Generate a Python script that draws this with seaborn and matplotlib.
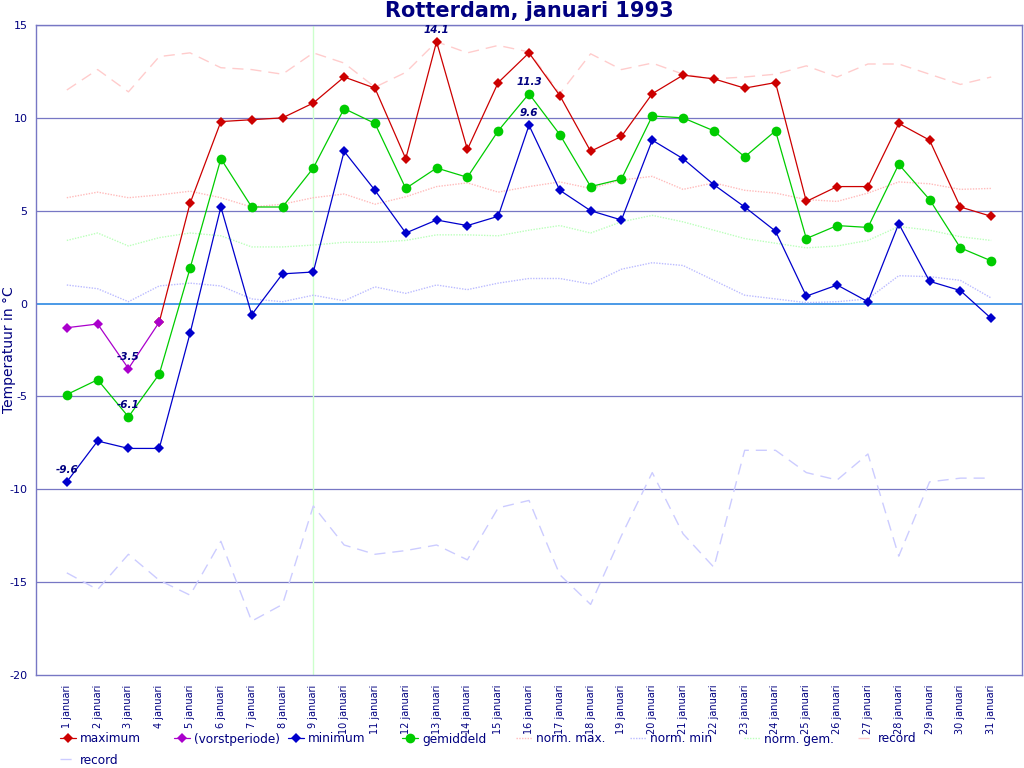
import matplotlib
matplotlib.use("Agg")
import matplotlib.pyplot as plt
import seaborn as sns
import pandas as pd

days = list(range(1, 32))
day_labels = [f"{d} januari" for d in days]

# days 1-4 are the frost period (vorstperiode) of the maximum series
maximum = [-1.3, -1.1, -3.5, -1.0, 5.4, 9.8, 9.9, 10.0, 10.8, 12.2, 11.6, 7.8, 14.1, 8.3, 11.9, 13.5,
           11.2, 8.2, 9.0, 11.3, 12.3, 12.1, 11.6, 11.9, 5.5, 6.3, 6.3, 9.7, 8.8, 5.2, 4.7]
minimum = [-9.6, -7.4, -7.8, -7.8, -1.6, 5.2, -0.6, 1.6, 1.7, 8.2, 6.1, 3.8, 4.5, 4.2, 4.7, 9.6,
           6.1, 5.0, 4.5, 8.8, 7.8, 6.4, 5.2, 3.9, 0.4, 1.0, 0.1, 4.3, 1.2, 0.7, -0.8]
gemiddeld = [-4.9, -4.1, -6.1, -3.8, 1.9, 7.8, 5.2, 5.2, 7.3, 10.5, 9.7, 6.2, 7.3, 6.8, 9.3, 11.3,
             9.1, 6.3, 6.7, 10.1, 10.0, 9.3, 7.9, 9.3, 3.5, 4.2, 4.1, 7.5, 5.6, 3.0, 2.3]
norm_max = [5.7, 6.0, 5.7, 5.85, 6.05, 5.7, 5.2, 5.35, 5.7, 5.9, 5.35, 5.75, 6.3, 6.5, 6.0, 6.3,
            6.55, 6.2, 6.65, 6.85, 6.15, 6.5, 6.1, 5.95, 5.6, 5.5, 5.95, 6.55, 6.45, 6.15, 6.2]
norm_min = [1.0, 0.8, 0.1, 0.95, 1.1, 0.95, 0.25, 0.1, 0.45, 0.15, 0.9, 0.55, 1.0, 0.75, 1.1, 1.35,
            1.35, 1.05, 1.85, 2.2, 2.05, 1.25, 0.45, 0.25, 0.05, 0.1, 0.25, 1.5, 1.45, 1.25, 0.3]
norm_gem = [3.4, 3.8, 3.1, 3.55, 3.8, 3.65, 3.05, 3.05, 3.15, 3.3, 3.3, 3.4, 3.7, 3.7, 3.65, 3.95,
            4.2, 3.8, 4.4, 4.75, 4.4, 3.95, 3.5, 3.25, 3.0, 3.1, 3.4, 4.15, 3.95, 3.6, 3.4]
record_max = [11.5, 12.6, 11.4, 13.3, 13.5, 12.7, 12.6, 12.35, 13.5, 12.95, 11.65, 12.45, 14.1, 13.5,
              13.9, 13.55, 11.3, 13.45, 12.6, 12.95, 12.35, 12.1, 12.2, 12.35, 12.8, 12.2, 12.9, 12.9,
              12.35, 11.8, 12.2]
record_min = [-14.5, -15.4, -13.5, -14.9, -15.7, -12.8, -17.1, -16.2, -10.9, -13.0, -13.5, -13.3,
              -13.0, -13.8, -11.0, -10.6, -14.6, -16.2, -12.5, -9.1, -12.4, -14.2, -7.9, -7.9, -9.1,
              -9.5, -8.1, -13.6, -9.6, -9.4, -9.4]

# highlighted extremes: (day, value)
labels_pts = [(13, 14.1), (16, 11.3), (16, 9.6), (3, -3.5), (3, -6.1), (1, -9.6)]

df = pd.DataFrame({"dag": days, "maximum": maximum, "minimum": minimum, "gemiddeld": gemiddeld,
                   "norm_max": norm_max, "norm_min": norm_min, "norm_gem": norm_gem,
                   "record_max": record_max, "record_min": record_min})

sns.set_style("white")
plt.rcParams["font.family"] = ["DejaVu Sans"]

NAVY = "#000080"
FRAME = "#7777c4"

fig = plt.figure(figsize=(10.24, 7.68), dpi=100)
ax = fig.add_axes([36 / 1024, 93 / 768, 986 / 1024, 650 / 768])

# grid lines
for yv in [-15, -10, -5, 5, 10, 15]:
    ax.axhline(yv, color=FRAME, lw=0.9, zorder=0)
ax.axhline(0, color="#1a7fe0", lw=1.1, zorder=0)
ax.axvline(9, color="#ccffcc", lw=1.0, zorder=0)

# background normals and records
sns.lineplot(data=df, x="dag", y="norm_max", ax=ax, color="#ffbbbb", lw=1, linestyle=(0, (1, 1)),
             label="norm. max.")
sns.lineplot(data=df, x="dag", y="norm_min", ax=ax, color="#bbbbff", lw=1, linestyle=(0, (1, 1)),
             label="norm. min")
sns.lineplot(data=df, x="dag", y="norm_gem", ax=ax, color="#bbffbb", lw=1, linestyle=(0, (1, 1)),
             label="norm. gem.")
sns.lineplot(data=df, x="dag", y="record_max", ax=ax, color="#ffcccc", lw=1, linestyle=(0, (8, 5)),
             label="record")
sns.lineplot(data=df, x="dag", y="record_min", ax=ax, color="#ccccff", lw=1, linestyle=(0, (8, 5)),
             label="record ")

# main series
sns.lineplot(data=df.iloc[3:], x="dag", y="maximum", ax=ax, color="#cc0000", lw=0.9, marker="D",
             markersize=5.5, markeredgewidth=0, label="maximum")
sns.lineplot(data=df.iloc[:4], x="dag", y="maximum", ax=ax, color="#aa00cc", lw=0.9, marker="D",
             markersize=5.5, markeredgewidth=0, label="(vorstperiode)")
sns.lineplot(data=df, x="dag", y="minimum", ax=ax, color="#0000cc", lw=0.9, marker="D",
             markersize=5.5, markeredgewidth=0, label="minimum")
sns.lineplot(data=df, x="dag", y="gemiddeld", ax=ax, color="#00cc00", lw=0.9, marker="o",
             markersize=7, markeredgewidth=0, label="gemiddeld")

for d, v in labels_pts:
    ax.annotate(f"{v:.1f}", (d, v), xytext=(0, 5), textcoords="offset points", ha="center",
                va="bottom", fontsize=7.5, fontstyle="italic", fontweight="bold", color=NAVY)

ax.set_xlim(0, 32)
ax.set_ylim(-20, 15)
ax.set_xticks(days)
ax.set_xticklabels(day_labels, rotation=90, fontsize=7, color=NAVY)
ax.set_yticks(range(-20, 16, 5))
ax.set_yticklabels([str(v) for v in range(-20, 16, 5)], fontsize=8, color=NAVY)
ax.tick_params(axis="x", length=4, color=FRAME, pad=3)
ax.tick_params(axis="y", length=4, color=FRAME, pad=2)
ax.set_xlabel("")
ax.set_ylabel("Temperatuur in °C", fontsize=10, color=NAVY)
ax.yaxis.set_label_coords(-0.0205, 0.5)
for s in ax.spines.values():
    s.set_color(FRAME)
    s.set_linewidth(1)

ax.set_title("Rotterdam, januari 1993", fontsize=15, fontweight="bold", color=NAVY, pad=6)

# legend: one entry per fixed slot, 8 per row
handles, labs = ax.get_legend_handles_labels()
ax.get_legend().remove()
hmap = dict(zip(labs, handles))
order = ["maximum", "(vorstperiode)", "minimum", "gemiddeld", "norm. max.", "norm. min",
         "norm. gem.", "record", "record "]
for i, key in enumerate(order):
    col, row = i % 8, i // 8
    x0 = (60 + 114 * col) / 1024
    y0 = (768 - 739 - 21 * row) / 768
    leg = fig.legend([hmap[key]], [key.strip()], loc="center left", bbox_to_anchor=(x0, y0),
                     frameon=False, fontsize=8.7, handlelength=1.35, handletextpad=0.33,
                     borderpad=0, borderaxespad=0)
    for t in leg.get_texts():
        t.set_color(NAVY)

fig.savefig("out.png", dpi=100)
